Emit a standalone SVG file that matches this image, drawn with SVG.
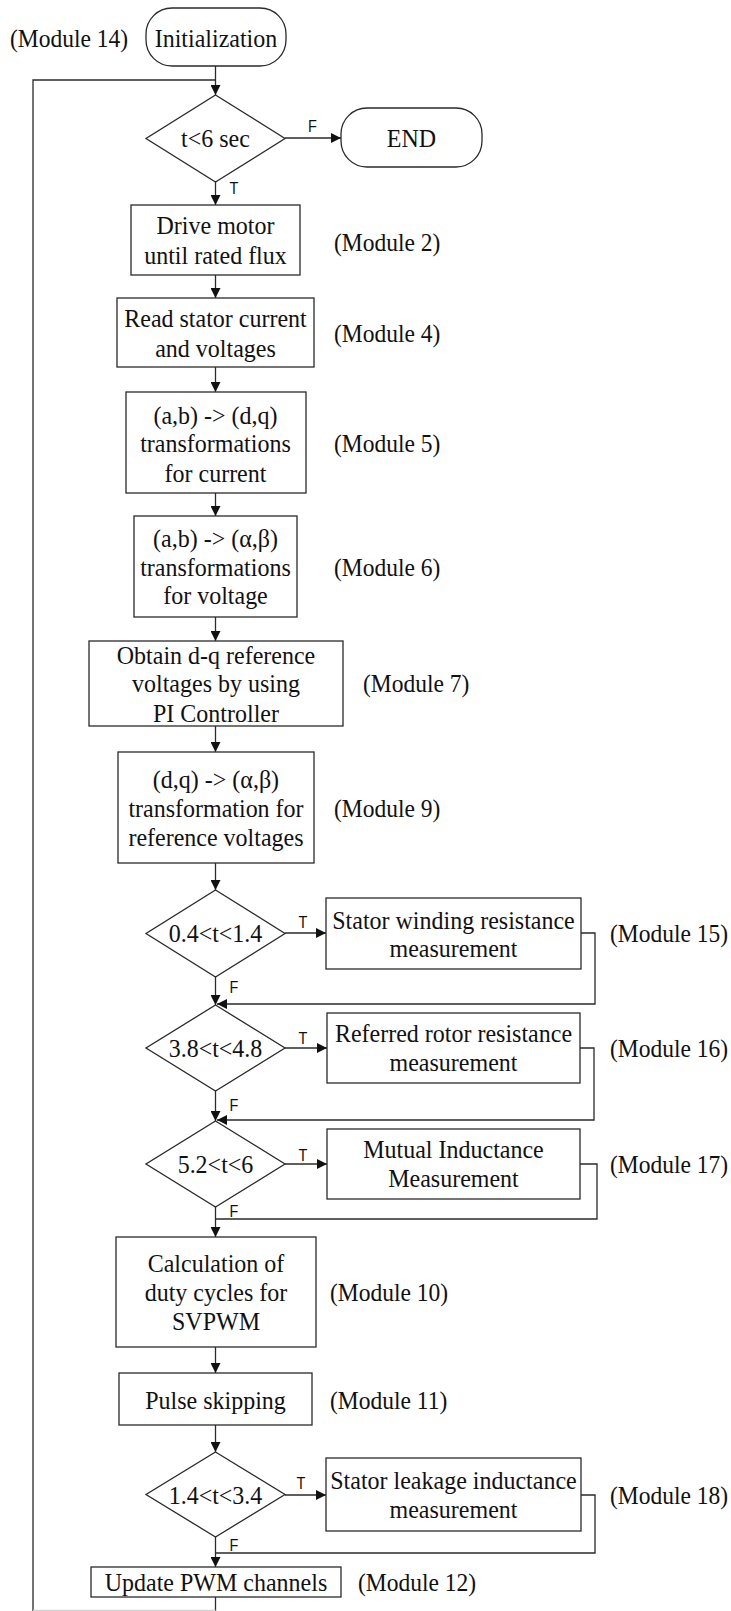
<svg xmlns="http://www.w3.org/2000/svg" width="731" height="1611" viewBox="0 0 731 1611">
  <style>
    .shape { fill: #ffffff; stroke: #2a2a2a; stroke-width: 1.3; }
    .wire { fill: none; stroke: #2a2a2a; stroke-width: 1.3; }
    .faint { fill: none; stroke: #d4d4d4; stroke-width: 1.3; }
    text { transform-box: fill-box; transform-origin: center; transform: scaleY(1.09); }
    .t { font-family: "Liberation Serif", "Times New Roman", serif; font-size: 24px; fill: #111; text-anchor: middle; }
    .mod { font-family: "Liberation Serif", "Times New Roman", serif; font-size: 23.5px; fill: #111; }
    .tf { font-family: "Liberation Sans", Arial, sans-serif; font-size: 14.5px; fill: #111; text-anchor: middle; }
  </style>
  <defs>
    <marker id="arrow" markerUnits="userSpaceOnUse" markerWidth="10" markerHeight="10" refX="10" refY="5" orient="auto">
      <path d="M0,0 L10,5 L0,10 z" fill="#111"/>
    </marker>
  </defs>

  <rect width="731" height="1611" fill="#ffffff"/>

  <!-- connectors -->
  <g id="connectors">
    <line class="wire" x1="215.5" y1="66" x2="215.5" y2="95" marker-end="url(#arrow)"/>
    <polyline class="wire" points="215.5,1597 215.5,1611"/>
    <polyline class="wire" points="33,1611 33,80 215.5,80"/>
    <line class="faint" x1="33" y1="1610.5" x2="215.5" y2="1610.5"/>
    <line class="wire" x1="285" y1="138" x2="341" y2="138" marker-end="url(#arrow)"/>
    <line class="wire" x1="215.5" y1="182" x2="215.5" y2="205" marker-end="url(#arrow)"/>
    <line class="wire" x1="215.5" y1="275" x2="215.5" y2="298" marker-end="url(#arrow)"/>
    <line class="wire" x1="215.5" y1="367" x2="215.5" y2="392" marker-end="url(#arrow)"/>
    <line class="wire" x1="215.5" y1="493" x2="215.5" y2="516" marker-end="url(#arrow)"/>
    <line class="wire" x1="215.5" y1="617" x2="215.5" y2="641" marker-end="url(#arrow)"/>
    <line class="wire" x1="215.5" y1="726" x2="215.5" y2="752" marker-end="url(#arrow)"/>
    <line class="wire" x1="215.5" y1="863" x2="215.5" y2="890" marker-end="url(#arrow)"/>
    <!-- 0.4<t<1.4 branch -->
    <line class="wire" x1="285" y1="933" x2="326" y2="933" marker-end="url(#arrow)"/>
    <polyline class="wire" points="581,933 595,933 595,1004 217,1004" marker-end="url(#arrow)"/>
    <line class="wire" x1="215.5" y1="977" x2="215.5" y2="1005" marker-end="url(#arrow)"/>
    <!-- 3.8<t<4.8 branch -->
    <line class="wire" x1="285" y1="1048" x2="327" y2="1048" marker-end="url(#arrow)"/>
    <polyline class="wire" points="580,1048 594,1048 594,1120 217,1120" marker-end="url(#arrow)"/>
    <line class="wire" x1="215.5" y1="1091" x2="215.5" y2="1121" marker-end="url(#arrow)"/>
    <!-- 5.2<t<6 branch -->
    <line class="wire" x1="285" y1="1164" x2="327" y2="1164" marker-end="url(#arrow)"/>
    <polyline class="wire" points="580,1164 597,1164 597,1219 215.5,1219"/>
    <line class="wire" x1="215.5" y1="1207" x2="215.5" y2="1237" marker-end="url(#arrow)"/>
    <line class="wire" x1="215.5" y1="1347" x2="215.5" y2="1373" marker-end="url(#arrow)"/>
    <line class="wire" x1="215.5" y1="1425" x2="215.5" y2="1452" marker-end="url(#arrow)"/>
    <!-- 1.4<t<3.4 branch -->
    <line class="wire" x1="285" y1="1495" x2="326" y2="1495" marker-end="url(#arrow)"/>
    <polyline class="wire" points="581,1495 595,1495 595,1553 215.5,1553"/>
    <line class="wire" x1="215.5" y1="1537" x2="215.5" y2="1567" marker-end="url(#arrow)"/>

    <text class="tf" x="312.5" y="131.5">F</text>
    <text class="tf" x="234" y="193.5">T</text>
    <text class="tf" x="303" y="927.5">T</text>
    <text class="tf" x="234" y="992.5">F</text>
    <text class="tf" x="303" y="1043.5">T</text>
    <text class="tf" x="234" y="1110.5">F</text>
    <text class="tf" x="303" y="1160.5">T</text>
    <text class="tf" x="234" y="1217">F</text>
    <text class="tf" x="301" y="1488.5">T</text>
    <text class="tf" x="234" y="1551">F</text>
  </g>

  <g id="init">
    <rect class="shape" x="146" y="8" width="140" height="58" rx="26" ry="26"/>
    <text class="t" x="216" y="46">Initialization</text>
    <text class="mod" x="10" y="46">(Module 14)</text>
  </g>

  <g id="check-time">
    <polygon class="shape" points="215.5,95 285,138.5 215.5,182 146,138.5"/>
    <text class="t" x="215.5" y="146">t&lt;6 sec</text>
  </g>

  <g id="end">
    <rect class="shape" x="341" y="108" width="141" height="59" rx="26" ry="26"/>
    <text class="t" x="411.5" y="146">END</text>
  </g>

  <g id="module2">
    <rect class="shape" x="131" y="205" width="169" height="70"/>
    <text class="t" x="215.5" y="233.5">Drive motor</text>
    <text class="t" x="215.5" y="263">until rated flux</text>
    <text class="mod" x="334" y="250">(Module 2)</text>
  </g>

  <g id="module4">
    <rect class="shape" x="117" y="298" width="197" height="69"/>
    <text class="t" x="215.5" y="326.5">Read stator current</text>
    <text class="t" x="215.5" y="356">and voltages</text>
    <text class="mod" x="334" y="341">(Module 4)</text>
  </g>

  <g id="module5">
    <rect class="shape" x="126" y="392" width="180" height="101"/>
    <text class="t" x="215.5" y="423">(a,b) -&gt; (d,q)</text>
    <text class="t" x="215.5" y="451">transformations</text>
    <text class="t" x="215.5" y="481">for current</text>
    <text class="mod" x="334" y="451">(Module 5)</text>
  </g>

  <g id="module6">
    <rect class="shape" x="134" y="516" width="163" height="101"/>
    <text class="t" x="215.5" y="546">(a,b) -&gt; (α,β)</text>
    <text class="t" x="215.5" y="575">transformations</text>
    <text class="t" x="215.5" y="603">for voltage</text>
    <text class="mod" x="334" y="575">(Module 6)</text>
  </g>

  <g id="module7">
    <rect class="shape" x="89" y="641" width="254" height="85"/>
    <text class="t" x="216" y="663">Obtain d-q reference</text>
    <text class="t" x="216" y="691">voltages by using</text>
    <text class="t" x="216" y="721">PI Controller</text>
    <text class="mod" x="363" y="691">(Module 7)</text>
  </g>

  <g id="module9">
    <rect class="shape" x="118" y="752" width="196" height="111"/>
    <text class="t" x="216" y="787">(d,q) -&gt; (α,β)</text>
    <text class="t" x="216" y="816">transformation for</text>
    <text class="t" x="216" y="845">reference voltages</text>
    <text class="mod" x="334" y="816">(Module 9)</text>
  </g>

  <g id="check-rs">
    <polygon class="shape" points="215.5,890 285,933.5 215.5,977 146,933.5"/>
    <text class="t" x="215.5" y="941">0.4&lt;t&lt;1.4</text>
  </g>

  <g id="module15">
    <rect class="shape" x="326" y="898" width="255" height="71"/>
    <text class="t" x="453.5" y="928">Stator winding resistance</text>
    <text class="t" x="453.5" y="956">measurement</text>
    <text class="mod" x="610" y="941">(Module 15)</text>
  </g>

  <g id="check-rr">
    <polygon class="shape" points="215.5,1005 285,1048 215.5,1091 146,1048"/>
    <text class="t" x="215.5" y="1056">3.8&lt;t&lt;4.8</text>
  </g>

  <g id="module16">
    <rect class="shape" x="327" y="1013" width="253" height="70"/>
    <text class="t" x="453.5" y="1041">Referred rotor resistance</text>
    <text class="t" x="453.5" y="1070">measurement</text>
    <text class="mod" x="610" y="1056">(Module 16)</text>
  </g>

  <g id="check-lm">
    <polygon class="shape" points="215.5,1121 285,1164 215.5,1207 146,1164"/>
    <text class="t" x="215.5" y="1172">5.2&lt;t&lt;6</text>
  </g>

  <g id="module17">
    <rect class="shape" x="327" y="1129" width="253" height="70"/>
    <text class="t" x="453.5" y="1157">Mutual Inductance</text>
    <text class="t" x="453.5" y="1186">Measurement</text>
    <text class="mod" x="610" y="1172">(Module 17)</text>
  </g>

  <g id="module10">
    <rect class="shape" x="116" y="1237" width="200" height="110"/>
    <text class="t" x="216" y="1271">Calculation of</text>
    <text class="t" x="216" y="1300">duty cycles for</text>
    <text class="t" x="216" y="1329">SVPWM</text>
    <text class="mod" x="330" y="1300">(Module 10)</text>
  </g>

  <g id="module11">
    <rect class="shape" x="119" y="1373" width="193" height="52"/>
    <text class="t" x="215.5" y="1408">Pulse skipping</text>
    <text class="mod" x="330" y="1408">(Module 11)</text>
  </g>

  <g id="check-ls">
    <polygon class="shape" points="215.5,1452 285,1494.5 215.5,1537 146,1494.5"/>
    <text class="t" x="215.5" y="1503">1.4&lt;t&lt;3.4</text>
  </g>

  <g id="module18">
    <rect class="shape" x="326" y="1458" width="255" height="73"/>
    <text class="t" x="453.5" y="1488">Stator leakage inductance</text>
    <text class="t" x="453.5" y="1517">measurement</text>
    <text class="mod" x="610" y="1503">(Module 18)</text>
  </g>

  <g id="module12">
    <rect class="shape" x="91" y="1567" width="250" height="30"/>
    <text class="t" x="216" y="1590">Update PWM channels</text>
    <text class="mod" x="358" y="1590">(Module 12)</text>
  </g>
</svg>
